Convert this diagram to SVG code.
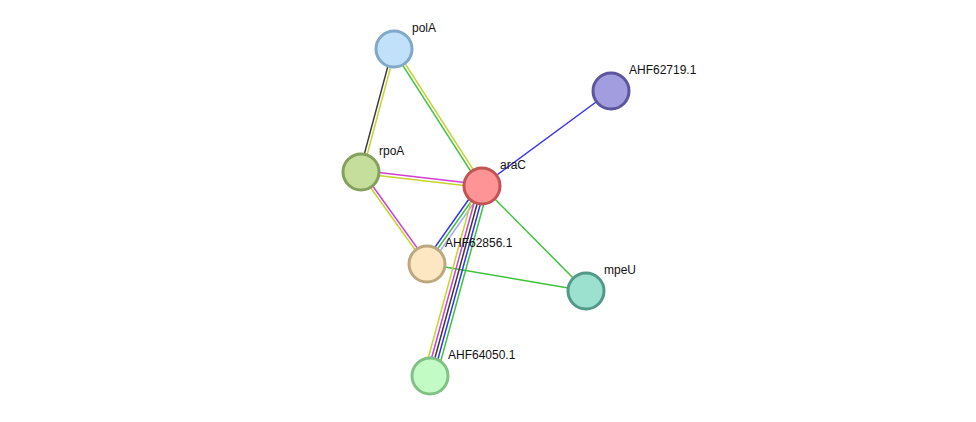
<svg xmlns="http://www.w3.org/2000/svg" width="976" height="422" viewBox="0 0 976 422">
<style>
.e{stroke-width:1.5;fill:none}
.g{stroke:#3cc43c}.y{stroke:#c4d42c}.m{stroke:#d43cd4}.k{stroke:#3a3a3a}.b{stroke:#3535ee}.l{stroke:#a8a8f4}
.n{stroke-width:3}
.t{font-family:"Liberation Sans",Arial,sans-serif;font-size:12px;fill:#111}
</style>
<rect width="976" height="422" fill="#ffffff"/>
<g id="connectors">
<line class="e k" x1="392.6" y1="48.6" x2="359.6" y2="171.6"/>
<line class="e y" x1="395.4" y1="49.4" x2="362.4" y2="172.4"/>
<line class="e g" x1="392.8" y1="49.8" x2="480.8" y2="186.8"/>
<line class="e y" x1="395.2" y1="48.2" x2="483.2" y2="185.2"/>
<line class="e m" x1="361.2" y1="170.6" x2="482.2" y2="184.6"/>
<line class="e y" x1="360.8" y1="173.4" x2="481.8" y2="187.4"/>
<line class="e y" x1="359.9" y1="172.8" x2="425.9" y2="264.8"/>
<line class="e m" x1="362.1" y1="171.2" x2="428.1" y2="263.2"/>
<line class="e b" x1="482" y1="186" x2="611" y2="91"/>
<line class="e g" x1="482" y1="186" x2="586" y2="291"/>
<line class="e g" x1="427" y1="264" x2="586" y2="291"/>
<line class="e b" x1="479.4" y1="184.2" x2="424.4" y2="262.2"/>
<line class="e g" x1="482" y1="186" x2="427" y2="264"/>
<line class="e l" x1="484.6" y1="187.8" x2="429.6" y2="265.8"/>
<line class="e y" x1="475.8" y1="184.3" x2="423.8" y2="374.3"/>
<line class="e m" x1="478.9" y1="185.2" x2="426.9" y2="375.2"/>
<line class="e k" x1="482" y1="186" x2="430" y2="376"/>
<line class="e b" x1="485.1" y1="186.8" x2="433.1" y2="376.8"/>
<line class="e g" x1="488.2" y1="187.7" x2="436.2" y2="377.7"/>
</g>
<g id="polA"><circle class="n" cx="394" cy="49" r="18" fill="#c1e1fb" stroke="#80a8c9"/><text class="t" x="412" y="32">polA</text></g>
<g id="AHF62719.1"><circle class="n" cx="611" cy="91" r="18" fill="#a29ddf" stroke="#5d55a0"/><text class="t" x="629" y="74">AHF62719.1</text></g>
<g id="rpoA"><circle class="n" cx="361" cy="172" r="18" fill="#c6de9b" stroke="#84a05c"/><text class="t" x="379" y="155">rpoA</text></g>
<g id="araC"><circle class="n" cx="482" cy="186" r="18" fill="#fe9495" stroke="#c25454"/><text class="t" x="500" y="169">araC</text></g>
<g id="AHF62856.1"><circle class="n" cx="427" cy="264" r="18" fill="#fde7c3" stroke="#bca77e"/><text class="t" x="445" y="247">AHF62856.1</text></g>
<g id="mpeU"><circle class="n" cx="586" cy="291" r="18" fill="#9ce0cf" stroke="#52998a"/><text class="t" x="604" y="274">mpeU</text></g>
<g id="AHF64050.1"><circle class="n" cx="430" cy="376" r="18" fill="#c2fbc3" stroke="#80c284"/><text class="t" x="448" y="359">AHF64050.1</text></g>
</svg>
